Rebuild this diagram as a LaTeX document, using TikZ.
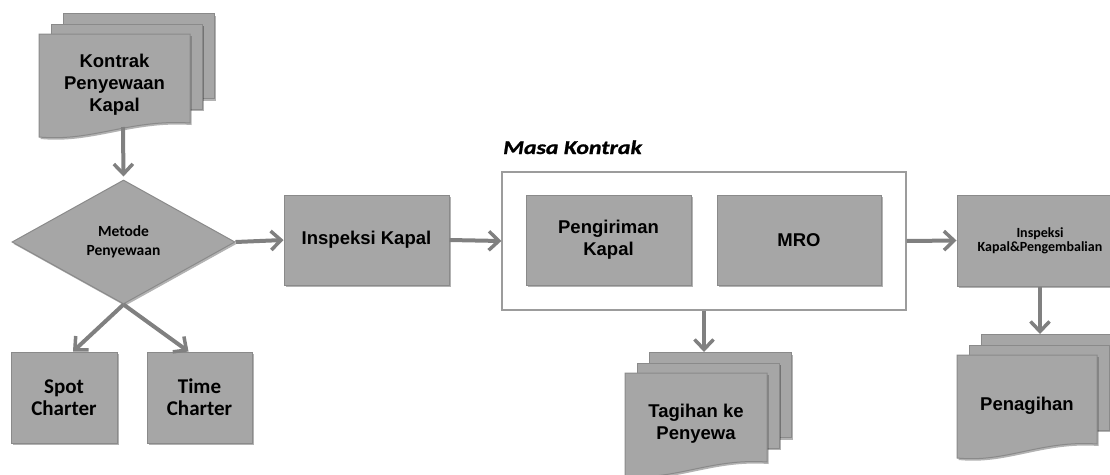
\documentclass[tikz,border=0pt]{standalone}
\usepackage{fontspec}
\setmainfont{Liberation Sans}
\newfontfamily\calfont{Carlito}
\newfontfamily\mkfont[FakeStretch=1.22,FakeBold=1.2]{Carlito}
\usetikzlibrary{shapes.geometric,arrows.meta,shadows,calc}
\definecolor{boxfill}{HTML}{A6A6A6}
\definecolor{boxline}{HTML}{8A8A8A}
\definecolor{arrowc}{HTML}{808080}
\definecolor{framec}{HTML}{9C9C9C}
\tikzset{
  shd/.style={drop shadow={shadow xshift=1.5pt, shadow yshift=-2pt, opacity=0.3, fill=black}},
  gbox/.style={draw=boxline, fill=boxfill, line width=1pt, shd, inner sep=0pt, align=center},
  sheet/.style={draw=boxline, fill=boxfill, line width=1pt, shd, inner sep=0pt},
  flow/.style={draw=arrowc, line width=4pt, -{Straight Barb[length=10pt,width=19pt,line width=3.5pt]}},
  bigtxt/.style={font=\fontsize{18.5}{22}\selectfont\bfseries},
  caltxt/.style={font=\calfont\fontsize{21}{22}\selectfont\bfseries},
  smalltxt/.style={font=\calfont\fontsize{15.5}{19}\selectfont\bfseries},
  tinytxt/.style={font=\calfont\fontsize{14}{14}\selectfont\bfseries},
  plain/.style={inner sep=0pt, align=center}
}
% #1 name, #2 x, #3 y (top-left of front sheet), #4 width, #5 text
\newcommand{\mdocshape}[5]{%
  \node[sheet, anchor=north west, minimum width=#4 pt, minimum height=85pt] (#1back) at (#2+24,#3-21) {};
  \node[sheet, anchor=north west, minimum width=#4 pt, minimum height=85pt] (#1mid) at (#2+12,#3-10.5) {};
  \draw[draw=boxline, fill=boxfill, line width=1pt, shd]
    (#2,#3) -- (#2+#4,#3) -- (#2+#4,#3+89)
    .. controls (#2+0.6*#4,#3+85) and (#2+0.35*#4,#3+108) .. (#2,#3+103) -- cycle;
  \node[plain, bigtxt] (#1) at (#2+0.5*#4,#3+51) {#5};
}
\begin{document}
\begin{tikzpicture}[x=1pt,y=-1pt]
\useasboundingbox (0,0) rectangle (1110,474);

% documents
\mdocshape{kontrak}{39}{34}{151}{Kontrak\\Penyewaan\\Kapal}
\mdocshape{tagihan}{625}{373}{142}{Tagihan ke\\Penyewa}
\mdocshape{penagihan}{957}{355}{140}{Penagihan}

% decision
\node[diamond, draw=boxline, fill=boxfill, line width=1pt, shd, aspect=1.8,
      minimum width=223pt, minimum height=124pt, inner sep=0pt, align=center, smalltxt]
      (dia) at (123.5,242) {Metode\\Penyewaan};

% charter boxes
\node[gbox, caltxt, minimum width=106pt, minimum height=91pt] (spot) at (64,397.5) {Spot\\Charter};
\node[gbox, caltxt, minimum width=105pt, minimum height=91pt] (time) at (199.5,397.5) {Time\\Charter};

% inspeksi kapal
\node[gbox, bigtxt, minimum width=165pt, minimum height=90pt] (insp) at (366.5,240) {Inspeksi Kapal};

% masa kontrak frame
\node[draw=framec, fill=white, line width=1.3pt, minimum width=404pt, minimum height=138pt, inner sep=0pt] (frame) at (704,241) {};
\node[anchor=base west, inner sep=0pt, font=\mkfont\fontsize{19.5}{21}\selectfont\bfseries\itshape] (mk) at (503,154) {Masa Kontrak};
\node[gbox, bigtxt, minimum width=165pt, minimum height=90pt] (kirim) at (608.5,240) {Pengiriman\\Kapal};
\node[gbox, bigtxt, minimum width=164pt, minimum height=90pt] (mro) at (799,240) {MRO};

% inspeksi & pengembalian
\node[gbox, tinytxt, minimum width=166pt, minimum height=91pt] (ikp) at (1040,240.5) {Inspeksi\\Kapal\&Pengembalian};

% connectors
\coordinate (kout) at (123,127);
\draw[flow, shorten >=3pt] (kout) -- (dia.north);
\draw[flow] (dia.east) -- (insp.west);
\draw[flow] (insp.east) -- (frame.west);
\draw[flow] (frame.east) -- (ikp.west);
\draw[flow] (frame.south) -- (frame.south |- tagihanback.north);
\draw[flow] (ikp.south) -- (ikp.south |- penagihanback.north);
\draw[flow] (dia.south) -- ($(spot.north)+(9,0)$);
\draw[flow] (dia.south) -- ($(time.north)+(-11,0)$);
\end{tikzpicture}
\end{document}
